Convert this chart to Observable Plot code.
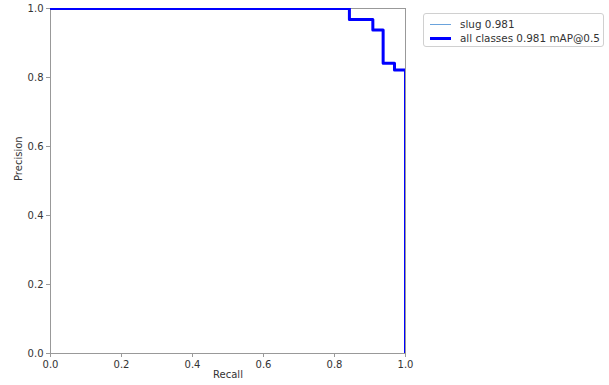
<!DOCTYPE html>
<html>
<head>
<meta charset="utf-8">
<script src="https://cdn.jsdelivr.net/npm/d3@7"></script>
<script src="https://cdn.jsdelivr.net/npm/@observablehq/plot@0.6"></script>
<style>
  html, body { margin: 0; padding: 0; background: #fff; }
  #wrap { position: relative; width: 609px; height: 385px; font-family: "DejaVu Sans", sans-serif; }
  #legend { position: absolute; left: 423px; top: 13px; width: 181px; height: 34px; border: 1px solid #d0d0d0; border-radius: 3px; background: #fff; box-sizing: border-box; }
  .row { position: absolute; left: 0; height: 14px; display: flex; align-items: center; font-size: 10.4px; color: #333; white-space: nowrap; }
  .sw { display: inline-block; width: 21px; margin-left: 6px; margin-right: 9px; }
</style>
</head>
<body>
<div id="wrap"></div>
<script>
// Data (precision-recall step curve)
const recall    = [0, 0.842, 0.842, 0.908, 0.908, 0.937, 0.937, 0.969, 0.969, 1.0, 1.0];
const precision = [1, 1,     0.968, 0.968, 0.938, 0.938, 0.841, 0.841, 0.822, 0.822, 0];
const seriesNames = ["slug 0.981", "all classes 0.981 mAP@0.5"];
const seriesColors = ["#6aa3dc", "#0000ff"];
const seriesWidths = [1, 3];
const xTicks = [0, 0.2, 0.4, 0.6, 0.8, 1.0];
const yTicks = [0, 0.2, 0.4, 0.6, 0.8, 1.0];

const pts = recall.map((r, i) => ({recall: r, precision: precision[i]}));

const chart = Plot.plot({
  width: 609,
  height: 385,
  marginLeft: 50,
  marginRight: 204,
  marginTop: 8,
  marginBottom: 32,
  style: {fontFamily: "DejaVu Sans, sans-serif", fontSize: "10px", color: "#333", background: "#fff"},
  x: {domain: [0, 1]},
  y: {domain: [0, 1]},
  marks: [
    Plot.frame({stroke: "#999", strokeWidth: 1}),
    Plot.line(pts, {x: "recall", y: "precision", stroke: seriesColors[0], strokeWidth: seriesWidths[0], clip: true}),
    Plot.line(pts, {x: "recall", y: "precision", stroke: seriesColors[1], strokeWidth: seriesWidths[1], clip: true}),
    Plot.axisX({ticks: xTicks, tickFormat: d3.format(".1f"), tickSize: 4, tickPadding: 3, stroke: "#999", label: null}),
    Plot.axisY({ticks: yTicks, tickFormat: d3.format(".1f"), tickSize: 4, tickPadding: 3, stroke: "#999", label: null}),
    Plot.text(["Recall"], {frameAnchor: "bottom", dy: 24, fill: "#333"}),
    Plot.text(["Precision"], {frameAnchor: "left", dx: -32, rotate: -90, fill: "#333"})
  ]
});

const wrap = document.getElementById("wrap");
wrap.appendChild(chart);

const legend = document.createElement("div");
legend.id = "legend";
seriesNames.forEach((name, i) => {
  const row = document.createElement("div");
  row.className = "row";
  row.style.top = (3 + i * 14) + "px";
  const sw = document.createElement("span");
  sw.className = "sw";
  sw.style.borderTop = seriesWidths[i] + "px solid " + seriesColors[i];
  row.appendChild(sw);
  const t = document.createElement("span");
  t.textContent = name;
  row.appendChild(t);
  legend.appendChild(row);
});
wrap.appendChild(legend);
</script>
</body>
</html>
